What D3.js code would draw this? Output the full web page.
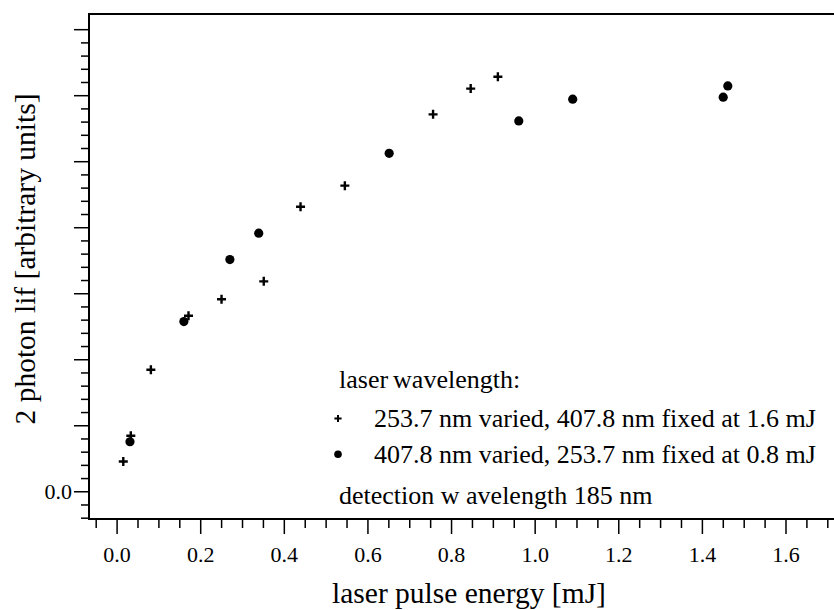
<!DOCTYPE html>
<meta charset="utf-8">
<body style="margin:0; background:#fff">
<script src="https://cdn.jsdelivr.net/npm/d3@7/dist/d3.min.js"></script>
<script>
// plus series: 253.7 nm varied, 407.8 nm fixed at 1.6 mJ
var plusEnergy = [0.016, 0.034, 0.082, 0.172, 0.251, 0.352, 0.440, 0.546, 0.757, 0.847, 0.912];
var plusLif    = [0.45, 0.84, 1.84, 2.66, 2.91, 3.18, 4.31, 4.63, 5.71, 6.10, 6.28];
// dot series: 407.8 nm varied, 253.7 nm fixed at 0.8 mJ
var dotEnergy  = [0.032, 0.161, 0.271, 0.340, 0.652, 0.962, 1.091, 1.451, 1.462];
var dotLif     = [0.75, 2.57, 3.51, 3.91, 5.12, 5.61, 5.94, 5.97, 6.14];

var xMajor = [0, 0.2, 0.4, 0.6, 0.8, 1.0, 1.2, 1.4, 1.6];
var yMajor = [0, 1, 2, 3, 4, 5, 6, 7];
var yLabels = ["0.0"];

var W = 834, H = 610;
var pLeft = 89, pRight = 834, pTop = 14, pBottom = 519;
var serif = "Liberation Serif";

var svg = d3.select("body").append("svg")
    .attr("width", W)
    .attr("height", H)
    .style("font-family", serif);

var x = d3.scaleLinear().domain([-0.066, 1.716]).range([pLeft, pRight]);
var y = d3.scaleLinear().domain([-0.42, 7.23]).range([pBottom, pTop]);

// minor ticks
var xMinor = d3.range(-0.05, 1.71, 0.05).filter(function(v) {
  return Math.abs(v * 5 - Math.round(v * 5)) > 1e-6;
});
var yMinor = d3.range(-0.4, 7.01, 0.2).filter(function(v) {
  return Math.abs(v - Math.round(v)) > 1e-6;
});

function styleAxis(g) {
  g.select(".domain").remove();
  g.selectAll("line").attr("stroke", "#000").attr("stroke-width", 1.5);
  g.selectAll("text")
    .style("font-family", serif)
    .style("font-size", "22px")
    .attr("fill", "#000");
}

svg.append("g")
    .attr("transform", "translate(0," + pBottom + ")")
    .call(d3.axisBottom(x).tickValues(xMinor).tickSize(9).tickFormat(""))
    .call(styleAxis);

svg.append("g")
    .attr("transform", "translate(0," + pBottom + ")")
    .call(d3.axisBottom(x).tickValues(xMajor).tickSize(15).tickFormat(d3.format(".1f")))
    .call(styleAxis)
    .selectAll("text").attr("y", 43).attr("dy", 0);

svg.append("g")
    .attr("transform", "translate(" + pLeft + ",0)")
    .call(d3.axisLeft(y).tickValues(yMinor).tickSize(8).tickFormat(""))
    .call(styleAxis);

svg.append("g")
    .attr("transform", "translate(" + pLeft + ",0)")
    .call(d3.axisLeft(y).tickValues(yMajor).tickSize(15)
      .tickFormat(function(d, i) { return yLabels[i] || ""; }))
    .call(styleAxis)
    .selectAll("text").attr("x", -17).attr("dy", "0.32em");

// frame lines
svg.append("line").attr("x1", pLeft).attr("x2", pLeft).attr("y1", pTop - 1).attr("y2", pBottom + 1)
    .attr("stroke", "#000").attr("stroke-width", 2);
svg.append("line").attr("x1", pLeft).attr("x2", pRight).attr("y1", pBottom).attr("y2", pBottom)
    .attr("stroke", "#000").attr("stroke-width", 2);
svg.append("line").attr("x1", pLeft).attr("x2", pRight).attr("y1", pTop).attr("y2", pTop)
    .attr("stroke", "#000").attr("stroke-width", 2);

// data
function plusPath(s) { return "M" + (-s) + ",0H" + s + "M0," + (-s) + "V" + s; }

svg.selectAll(".plus")
    .data(plusEnergy)
  .enter().append("path")
    .attr("class", "plus")
    .attr("transform", function(d, i) { return "translate(" + x(d) + "," + y(plusLif[i]) + ")"; })
    .attr("d", plusPath(4.5))
    .attr("stroke", "#000")
    .attr("stroke-width", 2.4);

svg.selectAll(".dot")
    .data(dotEnergy)
  .enter().append("circle")
    .attr("class", "dot")
    .attr("cx", function(d) { return x(d); })
    .attr("cy", function(d, i) { return y(dotLif[i]); })
    .attr("r", 4.6)
    .attr("fill", "#000");

// axis titles
svg.append("text")
    .attr("x", 469)
    .attr("y", 603)
    .style("font-family", serif)
    .style("text-anchor", "middle")
    .style("font-size", "29.5px")
    .text("laser pulse energy [mJ]");

svg.append("text")
    .attr("transform", "rotate(-90)")
    .attr("x", -259)
    .attr("y", 35)
    .style("font-family", serif)
    .style("text-anchor", "middle")
    .style("font-size", "29.5px")
    .text("2 photon lif [arbitrary units]");

// legend
var lg = svg.append("g").style("font-family", serif).style("font-size", "26px");
var t1 = lg.append("text").attr("x", 339).attr("y", 388);
t1.append("tspan").text("laser");
t1.append("tspan").attr("dx", 5).text("wavelength:");

lg.append("path")
    .attr("transform", "translate(338,418.5)")
    .attr("d", plusPath(3.6))
    .attr("stroke", "#000").attr("stroke-width", 2);
lg.append("text").attr("x", 374).attr("y", 427)
    .text("253.7 nm varied, 407.8 nm fixed at 1.6 mJ");

lg.append("circle").attr("cx", 338).attr("cy", 454.3).attr("r", 3.8).attr("fill", "#000");
lg.append("text").attr("x", 374).attr("y", 462.5)
    .text("407.8 nm varied, 253.7 nm fixed at 0.8 mJ");

lg.append("text").attr("x", 339).attr("y", 503.5)
    .text("detection w avelength 185 nm");
</script>
</body>
